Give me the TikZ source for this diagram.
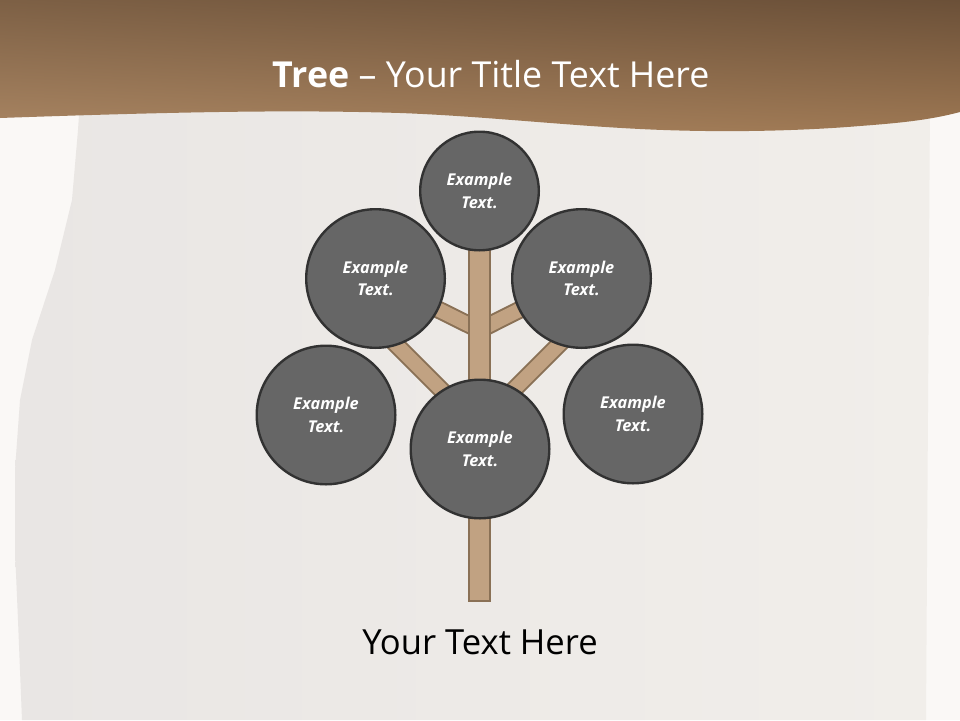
\documentclass[tikz,border=0pt]{standalone}
\usepackage{fontspec}
\setmainfont{Open Sans}
\usetikzlibrary{shadings}
\definecolor{bgcol}{HTML}{FAF8F6}
\definecolor{paperL}{HTML}{E9E6E4}
\definecolor{paperR}{HTML}{F1EEEA}
\definecolor{bandUL}{HTML}{7D6045}
\definecolor{bandUR}{HTML}{6B5038}
\definecolor{bandLL}{HTML}{A98562}
\definecolor{bandLR}{HTML}{9E7853}
\definecolor{woodfill}{HTML}{C1A282}
\definecolor{woodline}{HTML}{8A7156}
\definecolor{circfill}{HTML}{666666}
\definecolor{circline}{HTML}{323232}
\tikzset{
  circ/.style={circle, draw=circline, line width=2.4pt, fill=circfill, text=white,
    align=center, inner sep=0pt, font=\fontsize{16.3}{22.5}\selectfont\bfseries\itshape},
  bigcirc/.style={circ, minimum size=138.6pt},
  smallcirc/.style={circ, minimum size=118.6pt},
  trunkbox/.style={rectangle, draw=woodline, line width=2pt, fill=woodfill, inner sep=0pt,
    minimum width=21pt},
  branch/.style={draw=woodline, line width=2pt, double=woodfill, double distance=14pt},
}
\begin{document}
\begin{tikzpicture}[x=1pt,y=-1pt]
\useasboundingbox (0,0) rectangle (960,720);
\fill[bgcol] (0,0) rectangle (960,720);
% paper
\shade[left color=paperL, right color=paperR]
  (80,100) -- (930,100) -- (926,720) -- (22,720) -- (18,620) -- (15,550) -- (15,470)
  -- (20,400) -- (32,340) -- (55,270) -- (72,200) -- (78,130) -- cycle;
% top band
\shade[upper left=bandUL, upper right=bandUR, lower left=bandLL, lower right=bandLR]
  (0,0) -- (960,0) -- (960,112) .. controls (930,120) and (900,123) .. (860,126)
  .. controls (800,131) and (720,133) .. (640,129)
  .. controls (560,125) and (480,116) .. (400,113)
  .. controls (300,110) and (200,111) .. (0,118) -- cycle;
% title
\node[anchor=base, text=white, font=\fontsize{35.8}{40}\selectfont, inner sep=0pt] (title)
  at (491,87) {\textbf{Tree} – Your Title Text Here};
% trunk coordinates
\coordinate (jUL) at (479.5,330);
\coordinate (jUR) at (479.5,330);
\coordinate (jLL) at (479.5,428);
\coordinate (jLR) at (479.5,424);
\coordinate (eLL) at (365,313.5);
\coordinate (eLR) at (594,309.5);
% circles positions
\coordinate (pT) at (479.5,191);
\coordinate (pUL) at (375.5,278.5);
\coordinate (pUR) at (581.5,278.5);
\coordinate (pLL) at (326,415);
\coordinate (pLR) at (633,414);
\coordinate (pB) at (480,449);
% branches
\draw[branch] (jUL) -- (pUL);
\draw[branch] (jUR) -- (pUR);
\draw[branch] (jLL) -- (eLL);
\draw[branch] (jLR) -- (eLR);
% trunk
\node[trunkbox, minimum height=371pt] (trunk) at (479.5,415.5) {};
% circles
\node[smallcirc] (cT) at (pT) {Example\\Text.};
\node[bigcirc] (cUL) at (pUL) {Example\\Text.};
\node[bigcirc] (cUR) at (pUR) {Example\\Text.};
\node[bigcirc] (cLL) at (pLL) {Example\\Text.};
\node[bigcirc] (cLR) at (pLR) {Example\\Text.};
\node[bigcirc] (cB) at (pB) {Example\\Text.};
% bottom text
\node[anchor=base, text=black, font=\fontsize{34.6}{40}\selectfont, inner sep=0pt] (bottom)
  at (480,654) {Your Text Here};
\end{tikzpicture}
\end{document}
